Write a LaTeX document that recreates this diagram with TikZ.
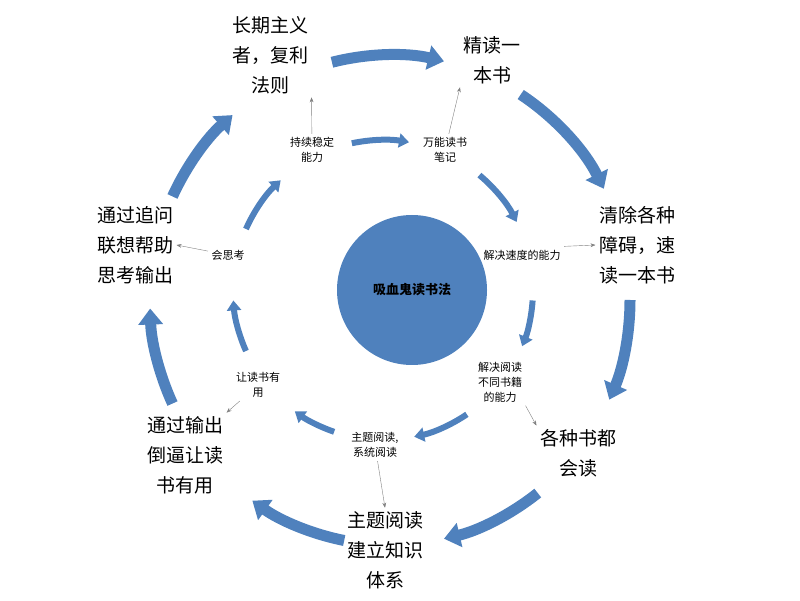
\documentclass[tikz,border=0pt]{standalone}
\usepackage{fontspec}
\setmainfont{Noto Sans CJK SC}
\usetikzlibrary{arrows.meta,calc}
\definecolor{ringblue}{HTML}{4F81BD}
\tikzset{
  big/.style={align=center,font=\fontsize{19}{30}\selectfont},
  small/.style={align=center,font=\fontsize{11}{15}\selectfont},
  ringout/.style={ringblue,line width=11pt,-{Triangle[width=24pt,length=16pt]}},
  ringin/.style={ringblue,line width=6pt,-{Triangle[width=14pt,length=10pt]}},
  hint/.style={gray,line width=0.4pt,-{Stealth[length=5pt]}}
}
\begin{document}
\begin{tikzpicture}[x=1pt,y=1pt]
        \useasboundingbox (0,0) rectangle (800,600);
        \coordinate (C) at (390,300);
        \coordinate (I) at (383,310);
        \node[circle,fill=ringblue,minimum size=150pt,font=\bfseries\fontsize{13}{15}\selectfont] (M) at (412,310) {吸血鬼读书法};

        \node[big] (long) at (270,545) {长期主义\\者，复利\\法则};
        \node[big] (jing) at (492,540) {精读一\\本书};
        \node[big] (qing) at (637,355) {清除各种\\障碍，速\\读一本书};
        \node[big] (ge) at (578,147) {各种书都\\会读};
        \node[big] (zhu) at (385,50) {主题阅读\\建立知识\\体系};
        \node[big] (tong) at (185,145) {通过输出\\倒逼让读\\书有用};
        \node[big] (zhui) at (135,355) {通过追问\\联想帮助\\思考输出};

        \node[small] (chi) at (312,450) {持续稳定\\能力};
        \node[small] (wan) at (445,450) {万能读书\\笔记};
        \node[small] (jie1) at (522,345) {解决速度的能力};
        \node[small] (jie2) at (500,218) {解决阅读\\不同书籍\\的能力};
        \node[small] (zt) at (375,155) {主题阅读,\\系统阅读};
        \node[small] (rang) at (258,215) {让读书有\\用};
        \node[small] (hui) at (228,345) {会思考};

        % outer ring
        \foreach \a/\b in {104/77, 57/27, 0/-24, -52/-77, -101/-125, -155/-178, 155/131}
          \draw[ringout] ($(C)+(\a:240 and 245)$) arc[start angle=\a,end angle=\b,x radius=240,y radius=245];
        % inner ring
        \foreach \a/\b in {102/80, 50/27, -4/-22, -56/-78, -109/-126, -156/-176, 156/133}
          \draw[ringin] ($(I)+(\a:150)$) arc[start angle=\a,end angle=\b,radius=150];

        \draw[hint] (chi) -- (long.south east);
        \draw[hint] (wan) -- (jing.south west);
        \draw[hint] (jie1.north east) -- (qing.west);
        \draw[hint] (jie2.south east) -- (ge.north west);
        \draw[hint] (zt) -- (zhu.north);
        \draw[hint] (rang) -- (tong.north east);
        \draw[hint] (hui) -- (zhui.east);
      \end{tikzpicture}
\end{document}
